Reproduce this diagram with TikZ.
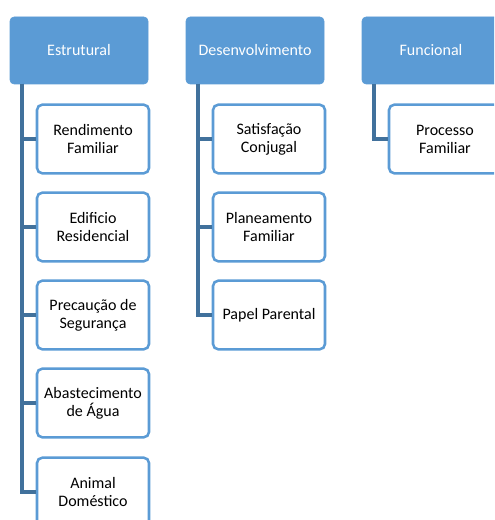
\documentclass[tikz,border=0pt]{standalone}
\usepackage{fontspec}
\setmainfont{Carlito}
\definecolor{hdrfill}{RGB}{91,155,213}
\definecolor{boxline}{RGB}{91,155,213}
\definecolor{conn}{RGB}{65,113,156}
\begin{document}
\begin{tikzpicture}[x=0.75pt,y=-0.75pt,
  hdr/.style={fill=hdrfill,draw=hdrfill,rounded corners=3pt,minimum width=103.5pt,minimum height=50.25pt,text=white,font=\fontsize{12}{13.5}\selectfont,inner sep=0pt},
  child/.style={fill=white,draw=boxline,line width=1.9pt,rounded corners=4pt,minimum width=84pt,minimum height=51.5pt,align=center,font=\fontsize{12}{13.5}\selectfont,inner sep=0pt},
  conn/.style={draw=conn,line width=2.4pt}]
\useasboundingbox (0,0) rectangle (494,520);
\clip (0,0) rectangle (494,520);
% headers
\node[hdr] (e) at (79,50.5) {Estrutural};
\node[hdr] (d) at (255,50.5) {Desenvolvimento};
\node[hdr] (f) at (431,50.5) {Funcional};
% children
\node[child] (e1) at (93,139) {Rendimento\\Familiar};
\node[child] (e2) at (93,227) {Edificio\\Residencial};
\node[child] (e3) at (93,315) {Precaução de\\Segurança};
\node[child] (e4) at (93,403) {Abastecimento\\de Água};
\node[child] (e5) at (93,492) {Animal\\Doméstico};
\node[child] (d1) at (269,139) {Satisfação\\Conjugal};
\node[child] (d2) at (269,227) {Planeamento\\Familiar};
\node[child] (d3) at (269,315) {Papel Parental};
\node[child] (f1) at (445,139) {Processo\\Familiar};
% connector anchors
\coordinate (ea) at (22,84);
\coordinate (da) at (198,84);
\coordinate (fa) at (374,84);
\foreach \c in {e1,e2,e3,e4,e5} \draw[conn] (ea) |- (\c.west);
\foreach \c in {d1,d2,d3} \draw[conn] (da) |- (\c.west);
\draw[conn] (fa) |- (f1.west);
\end{tikzpicture}
\end{document}
